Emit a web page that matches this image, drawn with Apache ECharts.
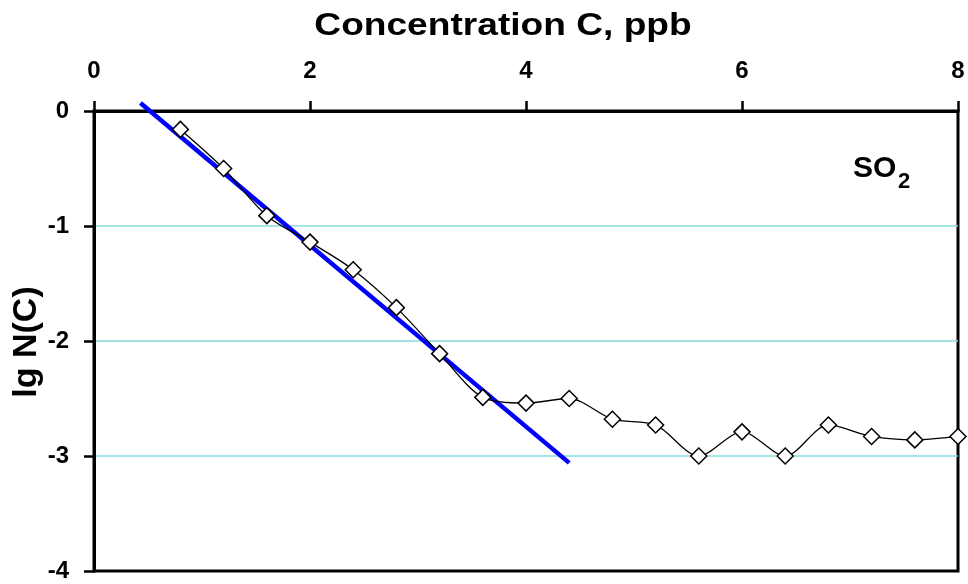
<!DOCTYPE html>
<html>
<head>
<meta charset="utf-8">
<script src="https://cdn.jsdelivr.net/npm/echarts@6/dist/echarts.min.js"></script>
<style>
  html, body { margin: 0; padding: 0; background: #fff; }
  #chart { width: 968px; height: 584px; }
</style>
</head>
<body>
<div id="chart"></div>
<script>
// Concentration values (ppb) and measured lg N(C)
const concentration = [0.8, 1.2, 1.6, 2.0, 2.4, 2.8, 3.2, 3.6, 4.0, 4.4, 4.8, 5.2, 5.6, 6.0, 6.4, 6.8, 7.2, 7.6, 8.0];
const lgN = [-0.16, -0.50, -0.91, -1.14, -1.38, -1.71, -2.11, -2.49, -2.54, -2.50, -2.68, -2.73, -3.00, -2.79, -3.00, -2.73, -2.83, -2.86, -2.83];

// Linear fit endpoints (concentration, lg N)
const fitX = [0.43, 4.40];
const fitY = [0.07, -3.06];

const xTicks = [0, 2, 4, 6, 8];
const yTicks = [0, -1, -2, -3, -4];

const font = '"Liberation Sans", Arial, Helvetica, sans-serif';

const chart = echarts.init(document.getElementById('chart'), null, { renderer: 'canvas' });

chart.setOption({
  animation: false,
  backgroundColor: '#ffffff',
  grid: {
    left: 94, right: 10, top: 111, bottom: 13,
    outerBoundsMode: 'none',
    containLabel: false,
    show: true, borderColor: '#000', borderWidth: 3, backgroundColor: 'transparent'
  },
  xAxis: {
    type: 'value',
    position: 'top',
    min: xTicks[0],
    max: xTicks[xTicks.length - 1],
    interval: 2,
    axisLine: { show: true, onZero: false, lineStyle: { color: '#000', width: 3 } },
    axisTick: { show: true, length: 10, lineStyle: { color: '#000', width: 2.5 } },
    axisLabel: { fontFamily: font, fontWeight: 'bold', fontSize: 24, color: '#000', margin: 28 },
    splitLine: { show: false }
  },
  yAxis: {
    type: 'value',
    min: yTicks[yTicks.length - 1],
    max: yTicks[0],
    interval: 1,
    axisLine: { show: true, onZero: false, lineStyle: { color: '#000', width: 3 } },
    axisTick: { show: true, length: 10, lineStyle: { color: '#000', width: 2.5 } },
    axisLabel: { fontFamily: font, fontWeight: 'bold', fontSize: 24, color: '#000', margin: 25 },
    splitLine: {
      show: true, showMinLine: false, showMaxLine: false,
      lineStyle: { color: '#86dcdc', width: 1.5 }
    }
  },
  graphic: [
    {
      // horizontal axis title, above the top axis
      type: 'text',
      x: 503,
      y: 26,
      scaleX: 1.16,
      style: {
        text: 'Concentration C, ppb',
        align: 'center',
        verticalAlign: 'middle',
        fontFamily: font, fontWeight: 'bold', fontSize: 32, fill: '#000'
      }
    },
    {
      // vertical axis title
      type: 'text',
      x: 27,
      y: 342,
      rotation: Math.PI / 2,
      style: {
        text: 'lg N(C)',
        align: 'center',
        verticalAlign: 'middle',
        fontFamily: font, fontWeight: 'bold', fontSize: 34, fill: '#000'
      }
    },
    {
      type: 'text',
      x: 853,
      y: 169,
      style: {
        text: 'SO',
        align: 'left',
        verticalAlign: 'middle',
        fontFamily: font, fontWeight: 'bold', fontSize: 30, fill: '#000'
      }
    },
    {
      type: 'text',
      x: 898,
      y: 182,
      style: {
        text: '2',
        align: 'left',
        verticalAlign: 'middle',
        fontFamily: font, fontWeight: 'bold', fontSize: 22, fill: '#000'
      }
    }
  ],
  series: [
    {
      name: 'fit',
      type: 'line',
      data: fitX.map((x, i) => [x, fitY[i]]),
      symbol: 'none',
      clip: false,
      lineStyle: { color: '#0000ff', width: 4.5 },
      z: 2
    },
    {
      name: 'lgN',
      type: 'line',
      data: concentration.map((x, i) => [x, lgN[i]]),
      smooth: 0.3,
      symbol: 'diamond',
      symbolSize: 16,
      clip: false,
      itemStyle: { color: '#ffffff', borderColor: '#000', borderWidth: 1.5 },
      lineStyle: { color: '#000', width: 1.3 },
      z: 3
    }
  ]
});
</script>
</body>
</html>
